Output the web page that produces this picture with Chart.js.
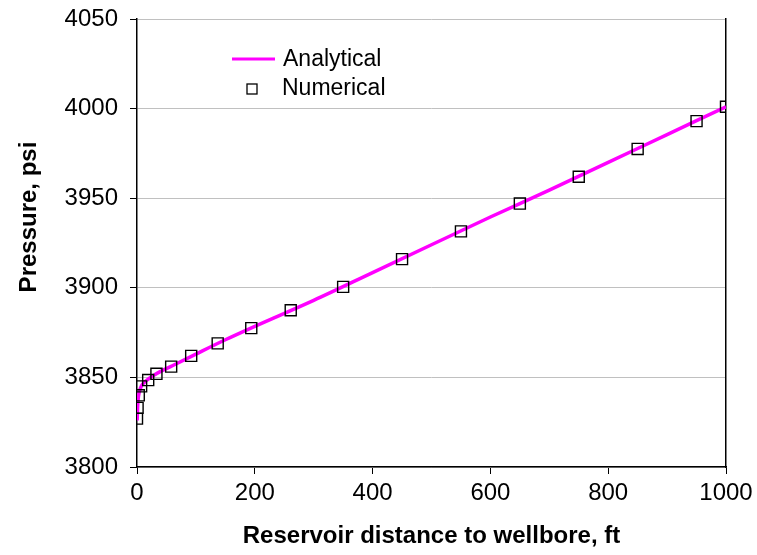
<!DOCTYPE html>
<html>
<head>
<meta charset="utf-8">
<title>Pressure vs distance</title>
<script src="https://cdn.jsdelivr.net/npm/chart.js@4.4.1/dist/chart.umd.min.js"></script>
<style>
  html, body { margin: 0; padding: 0; background: #ffffff; }
  #wrap { width: 757px; height: 555px; }
</style>
</head>
<body>
<div id="wrap"><canvas id="pressureChart" width="757" height="555"></canvas></div>
<script>
// Analytical solution (line)
const anaDistance = [0.25, 1, 2, 4, 8, 15, 30, 60, 100, 150, 200, 300, 400, 500, 600, 700, 800, 900, 1000];
const anaPressure = [3826, 3833, 3838, 3842, 3845.5, 3848, 3851.5, 3856.5, 3863, 3871, 3878.5, 3893, 3908.5, 3924, 3939.5, 3954.5, 3970, 3985.5, 4001];

// Numerical solution (square markers)
const numDistance = [0, 1, 3, 7, 19, 33, 58, 92, 137, 194, 261, 350, 450, 550, 650, 750, 850, 950, 1000];
const numPressure = [3827, 3833, 3840, 3845, 3848.5, 3852, 3856, 3862, 3869, 3877.5, 3887.5, 3900.5, 3916, 3931.5, 3947, 3962, 3977.5, 3993, 4001];

const xTicks = [0, 200, 400, 600, 800, 1000];
const yTicks = [3800, 3850, 3900, 3950, 4000, 4050];

const seriesNames = ['Analytical', 'Numerical'];
const xTitle = 'Reservoir distance to wellbore, ft';
const yTitle = 'Pressure, psi';

const FONT = "'Liberation Sans', Arial, sans-serif";
const MAGENTA = '#ff00ff';

function toPoints(xs, ys) {
  return xs.map((x, i) => ({ x: x, y: ys[i] }));
}

// fixed box sizes, no extra padding from the tick labels
function fixSize(w, h) {
  return s => {
    if (w !== null) s.width = w;
    if (h !== null) s.height = h;
    s.paddingTop = 0;
    s.paddingBottom = 0;
    s.paddingLeft = 0;
    s.paddingRight = 0;
  };
}

// legend sits inside the plot area, plus the rotated y title
const insideLegend = {
  id: 'insideLegend',
  afterDraw(chart) {
    const { ctx, chartArea } = chart;
    const x0 = chartArea.left + 95;
    const y0 = chartArea.top + 40;
    ctx.save();
    ctx.strokeStyle = MAGENTA;
    ctx.lineWidth = 3;
    ctx.beginPath();
    ctx.moveTo(x0, y0);
    ctx.lineTo(x0 + 43, y0);
    ctx.stroke();

    ctx.strokeStyle = '#000000';
    ctx.lineWidth = 1.3;
    ctx.strokeRect(x0 + 15, y0 + 25, 10, 10);

    ctx.fillStyle = '#000000';
    ctx.font = '23px ' + FONT;
    ctx.textBaseline = 'alphabetic';
    ctx.textAlign = 'left';
    ctx.fillText(seriesNames[0], x0 + 51, y0 + 7);
    ctx.fillText(seriesNames[1], x0 + 50, y0 + 36);

    ctx.translate(29, chartArea.top + 198);
    ctx.rotate(-Math.PI / 2);
    ctx.font = 'bold 24px ' + FONT;
    ctx.textAlign = 'center';
    ctx.textBaseline = 'middle';
    ctx.fillText(yTitle, 0, 0);
    ctx.restore();
  }
};

Chart.defaults.font.family = FONT;
Chart.defaults.color = '#000000';

const ctx = document.getElementById('pressureChart').getContext('2d');

new Chart(ctx, {
  type: 'scatter',
  data: {
    datasets: [
      {
        label: seriesNames[1],
        data: toPoints(numDistance, numPressure),
        showLine: false,
        pointStyle: 'rect',
        pointRadius: 7.8,
        pointBackgroundColor: 'rgba(255,255,255,0)',
        pointBorderColor: '#000000',
        pointBorderWidth: 1.4,
        order: 0
      },
      {
        label: seriesNames[0],
        data: toPoints(anaDistance, anaPressure),
        showLine: true,
        borderColor: MAGENTA,
        borderWidth: 3.5,
        pointRadius: 0,
        cubicInterpolationMode: 'monotone',
        order: 1
      }
    ]
  },
  options: {
    responsive: false,
    animation: false,
    layout: { padding: { top: 19, right: 0, bottom: 0, left: 0 } },
    plugins: {
      legend: { display: false },
      tooltip: { enabled: false }
    },
    scales: {
      x: {
        type: 'linear',
        min: 0,
        max: 1000,
        afterFit: fixSize(null, 88),
        afterBuildTicks: s => { s.ticks = xTicks.map(v => ({ value: v })); },
        grid: {
          drawOnChartArea: false,
          drawTicks: true,
          tickLength: 7,
          tickColor: '#000000'
        },
        border: { color: '#000000', width: 1.5 },
        ticks: { font: { size: 24 }, padding: 5, maxRotation: 0, callback: v => String(v) },
        title: {
          display: true,
          text: xTitle,
          font: { size: 24, weight: 'bold' },
          padding: { top: 0, bottom: 4 }
        }
      },
      y: {
        type: 'linear',
        position: 'left',
        min: 3800,
        max: 4050,
        afterFit: fixSize(137, null),
        afterBuildTicks: s => { s.ticks = yTicks.map(v => ({ value: v })); },
        grid: {
          color: '#c0c0c0',
          lineWidth: 1,
          drawTicks: true,
          tickLength: 7,
          tickColor: '#000000'
        },
        border: { color: '#000000', width: 1.5 },
        ticks: { font: { size: 24 }, padding: 12, callback: v => String(v) }
      },
      yRight: {
        type: 'linear',
        position: 'right',
        min: 3800,
        max: 4050,
        afterFit: fixSize(31, null),
        grid: { drawOnChartArea: false, drawTicks: false },
        border: { color: '#000000', width: 1.5 },
        ticks: { display: false }
      }
    }
  },
  plugins: [insideLegend]
});
</script>
</body>
</html>
